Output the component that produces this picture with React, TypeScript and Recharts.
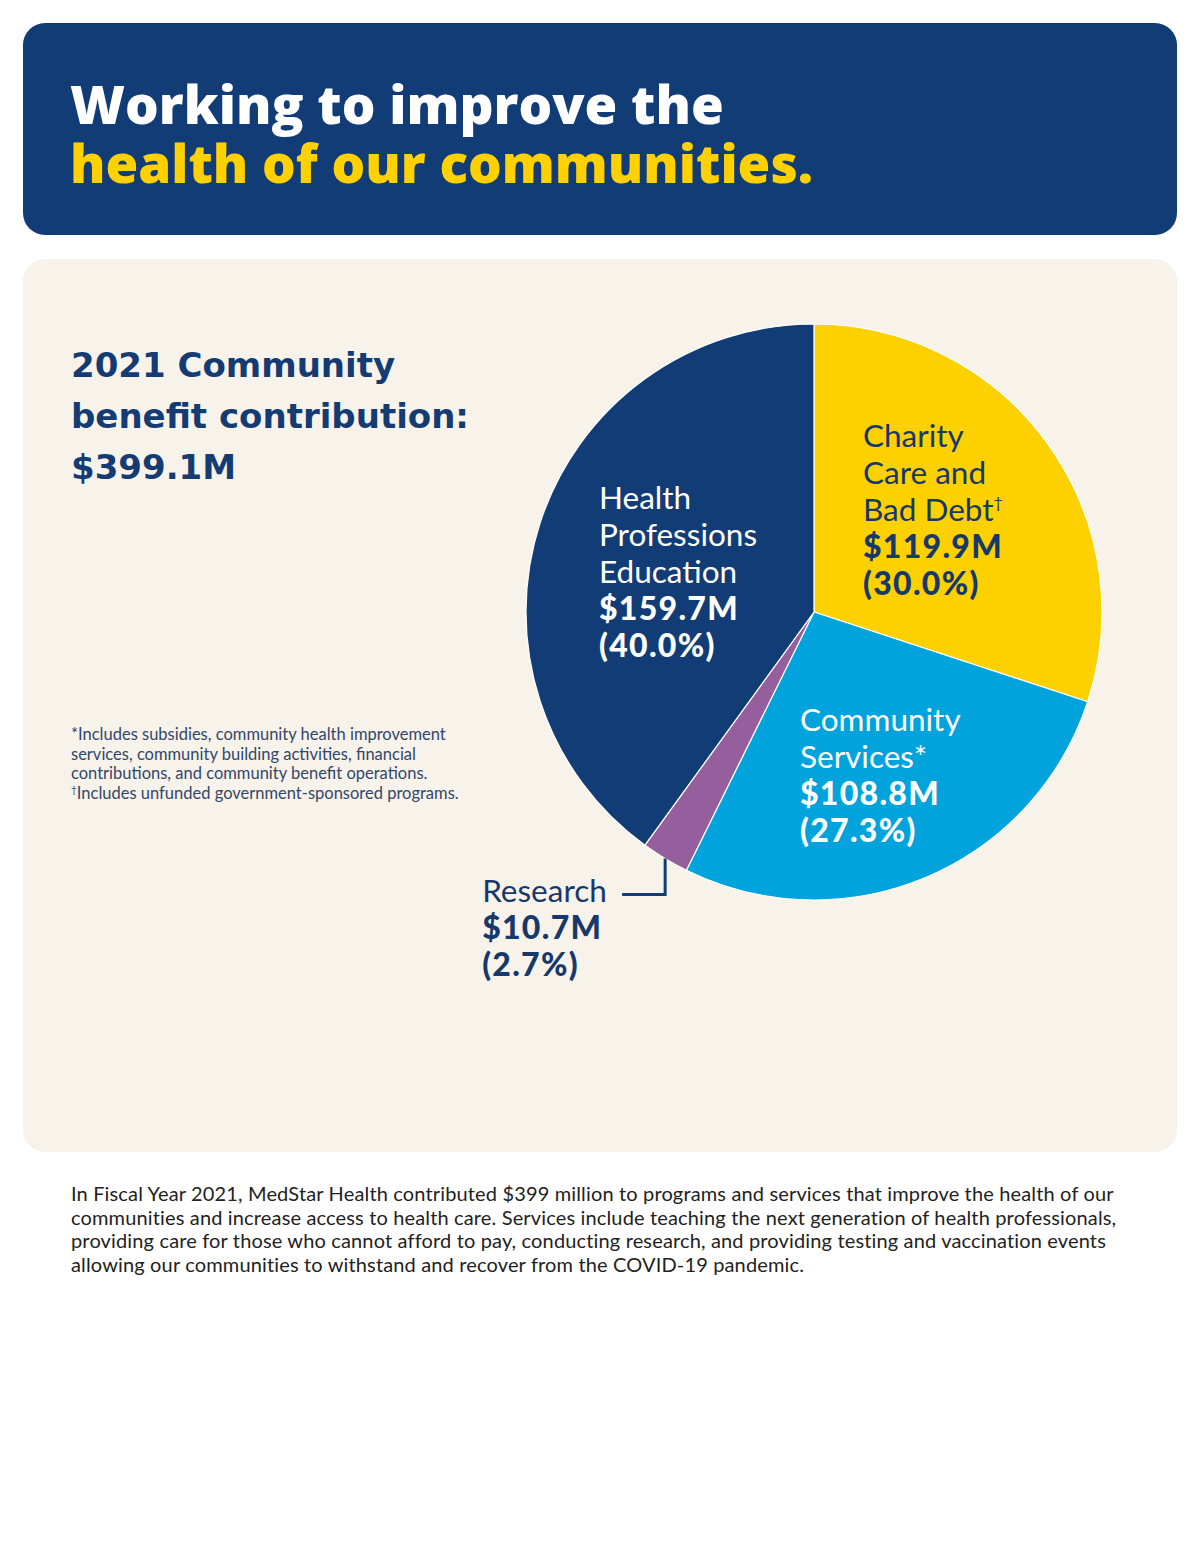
import { PieChart, Pie, Cell } from 'recharts';

const categories = ['Charity Care and Bad Debt', 'Community Services', 'Research', 'Health Professions Education'];
const amounts = [119.9, 108.8, 10.7, 159.7];
const shares = ['30.0%', '27.3%', '2.7%', '40.0%'];
const nameLines = [
  ['Charity', 'Care and', 'Bad Debt'],
  ['Community', 'Services*'],
  ['Research'],
  ['Health', 'Professions', 'Education'],
];
const nameMarks = ['†', '', '', ''];
const sliceColors = ['#FDD000', '#00A3DC', '#955F9E', '#123C75'];
const labelColors = ['#17386A', '#FFFFFF', '#17386A', '#FFFFFF'];

// label anchor offsets from the pie centre (layout only)
const labelOffsets = [
  { dx: 49, dy: -165 },
  { dx: -14, dy: 119 },
  { dx: 0, dy: 0 },
  { dx: -215, dy: -103 },
];

const chartData = categories.map((c, i) => ({ name: c, value: amounts[i] }));

const NAVY = '#123C75';
const LINE_H = 37;
const RADIAN = Math.PI / 180;

const renderLabel = (props: any) => {
  const { cx, cy, midAngle, outerRadius, index } = props;
  const color = labelColors[index];
  const lines = nameLines[index];
  let x0: number, y0: number;
  let leader = null;
  if (index === 2) {
    // leader from the slice edge, down then left
    const ex = cx + outerRadius * Math.cos(-midAngle * RADIAN);
    const ey = cy + outerRadius * Math.sin(-midAngle * RADIAN);
    const by = ey + 36;
    const lx = ex - 43;
    leader = (
      <path d={`M${ex},${ey} L${ex},${by} L${lx},${by}`} stroke={NAVY} strokeWidth={3} fill="none" />
    );
    x0 = lx - 140;
    y0 = by + 7;
  } else {
    x0 = cx + labelOffsets[index].dx;
    y0 = cy + labelOffsets[index].dy;
  }
  return (
    <g key={`lbl-${index}`}>
      {leader}
      <text x={x0} y={y0} fill={color} style={{ fontFamily: 'Lato, sans-serif' }}>
        {lines.map((ln, i) => (
          <tspan key={i} x={x0} y={y0 + i * LINE_H} fontSize={31.5} fontWeight={400}>
            {ln}
            {i === lines.length - 1 && nameMarks[index] ? (
              <tspan fontSize={16} dy={-13}>{nameMarks[index]}</tspan>
            ) : null}
          </tspan>
        ))}
        <tspan x={x0} y={y0 + lines.length * LINE_H} fontSize={32} fontWeight={900} letterSpacing={1.3}>
          {`$${amounts[index].toFixed(1)}M`}
        </tspan>
        <tspan x={x0} y={y0 + (lines.length + 1) * LINE_H} fontSize={32} fontWeight={900} letterSpacing={1.3}>
          {`(${shares[index]})`}
        </tspan>
      </text>
    </g>
  );
};

export default function App() {
  return (
    <div style={{ position: 'absolute', left: 0, top: 0, width: 1200, height: 1553, background: '#fff', fontFamily: 'Lato, sans-serif' }}>
      <div style={{ position: 'absolute', left: 23, top: 23, width: 1154, height: 212, background: NAVY, borderRadius: 22 }}>
        <div style={{ position: 'absolute', left: 47, top: 51, fontFamily: '"Open Sans", sans-serif', fontSize: 53, fontWeight: 800, lineHeight: '59px' }}>
          <div style={{ color: '#fff' }}>Working to improve the</div>
          <div style={{ color: '#FFD100' }}>health of our communities.</div>
        </div>
      </div>

      <div style={{ position: 'absolute', left: 23, top: 259, width: 1154, height: 893, background: '#F7F3EA', borderRadius: 22 }}>
        <div style={{ position: 'absolute', left: 48, top: 81, color: '#153B73', fontFamily: '"DejaVu Sans", sans-serif', fontSize: 34, fontWeight: 700, lineHeight: '51px' }}>
          <div>2021 Community</div>
          <div>benefit contribution:</div>
          <div>$399.1M</div>
        </div>
        <div style={{ position: 'absolute', left: 48, top: 466, color: '#33466B', fontSize: 16.5, lineHeight: '19.7px', whiteSpace: 'nowrap' }}>
          <div>*Includes subsidies, community health improvement</div>
          <div>services, community building activities, financial</div>
          <div>contributions, and community benefit operations.</div>
          <div>
            <span style={{ fontSize: 10, position: 'relative', top: -6, lineHeight: 0 }}>†</span>Includes unfunded government-sponsored programs.
          </div>
        </div>
      </div>

      <div style={{ position: 'absolute', left: 454, top: 252 }}>
        <PieChart width={720} height={760} margin={{ top: 0, right: 0, bottom: 0, left: 0 }}>
          <Pie
            data={chartData}
            dataKey="value"
            nameKey="name"
            cx={360}
            cy={360}
            outerRadius={288}
            startAngle={90}
            endAngle={-270}
            stroke="#ffffff"
            strokeWidth={1.2}
            label={renderLabel}
            labelLine={false}
            isAnimationActive={false}
          >
            {chartData.map((d, i) => (
              <Cell key={d.name} fill={sliceColors[i]} />
            ))}
          </Pie>
        </PieChart>
      </div>

      <div style={{ position: 'absolute', left: 71, top: 1182, color: '#222', fontSize: 20, letterSpacing: 0.15, lineHeight: '23.6px', whiteSpace: 'nowrap' }}>
        <div>In Fiscal Year 2021, MedStar Health contributed $399 million to programs and services that improve the health of our</div>
        <div>communities and increase access to health care. Services include teaching the next generation of health professionals,</div>
        <div>providing care for those who cannot afford to pay, conducting research, and providing testing and vaccination events</div>
        <div>allowing our communities to withstand and recover from the COVID-19 pandemic.</div>
      </div>
    </div>
  );
}
